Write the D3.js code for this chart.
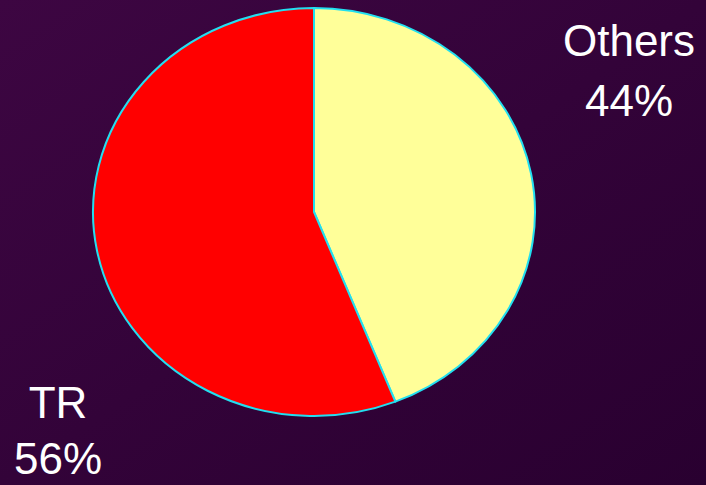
<!DOCTYPE html>
<html>
<head>
<meta charset="utf-8">
<script src="https://cdn.jsdelivr.net/npm/d3@7"></script>
<style>
  body { margin: 0; }
  svg { display: block; }
</style>
</head>
<body>
<div id="chart"></div>
<script>
const categories = ['Others', 'TR']
const values = [44, 56]
const colors = ['#ffff99', '#ff0000']

const width = 706
const height = 485

const svg = d3.select('#chart')
  .append('svg')
  .attr('width', width)
  .attr('height', height)

// background gradient
const defs = svg.append('defs')
const grad = defs.append('linearGradient')
  .attr('id', 'bg')
  .attr('x1', '0%').attr('y1', '0%')
  .attr('x2', '100%').attr('y2', '100%')
grad.append('stop').attr('offset', '0%').attr('stop-color', '#3d0642')
grad.append('stop').attr('offset', '100%').attr('stop-color', '#290030')

svg.append('rect')
  .attr('width', width)
  .attr('height', height)
  .attr('fill', 'url(#bg)')

// pie drawn as a circle then squashed into an ellipse
const cx = 314, cy = 212, rx = 221, ry = 204

const pie = d3.pie().sort(null).value(d => d)
const arc = d3.arc().innerRadius(0).outerRadius(rx)

const g = svg.append('g')
  .attr('transform', `translate(${cx},${cy}) scale(1,${ry / rx})`)

g.selectAll('path')
  .data(pie(values))
  .enter()
  .append('path')
  .attr('d', arc)
  .attr('fill', (d, i) => colors[i])
  .attr('stroke', '#22dff0')
  .attr('stroke-width', 2)
  .attr('vector-effect', 'non-scaling-stroke')
  .attr('stroke-linejoin', 'round')

// labels
const labels = [
  { name: categories[0], pct: values[0] + '%', x: 629, y1: 56, y2: 116 },
  { name: categories[1], pct: values[1] + '%', x: 58, y1: 418, y2: 474 }
]

const lab = svg.append('g')
  .selectAll('g')
  .data(labels)
  .enter()
  .append('g')
  .attr('font-family', 'Liberation Sans, Arial, sans-serif')
  .attr('font-size', 44)
  .attr('fill', '#ffffff')
  .attr('text-anchor', 'middle')

lab.append('text')
  .attr('x', d => d.x)
  .attr('y', d => d.y1)
  .text(d => d.name)

lab.append('text')
  .attr('x', d => d.x)
  .attr('y', d => d.y2)
  .text(d => d.pct)
</script>
</body>
</html>
